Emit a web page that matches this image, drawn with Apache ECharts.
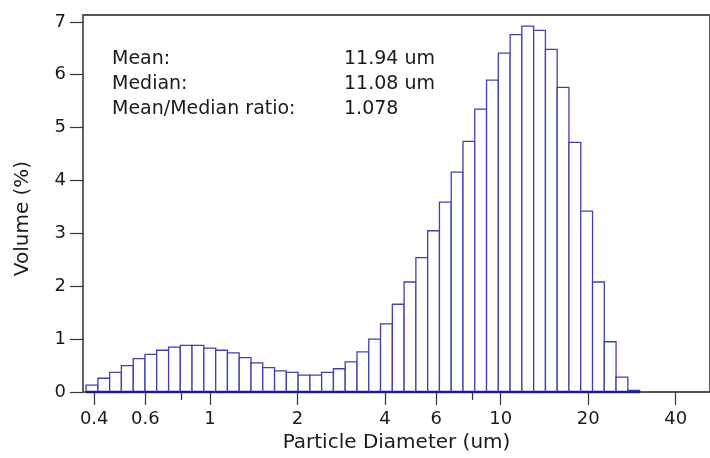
<!DOCTYPE html>
<html>
<head>
<meta charset="utf-8">
<script src="https://cdn.jsdelivr.net/npm/echarts@6/dist/echarts.min.js"></script>
<style>
html,body{margin:0;padding:0;background:#fff;}
#chart{width:710px;height:458px;}
</style>
</head>
<body>
<div id="chart"></div>
<script>
// Bin edges (um), log-spaced channels
const binEdges = [0.375,0.412,0.452,0.496,0.545,0.598,0.656,0.721,0.791,0.868,0.953,1.047,1.149,1.261,1.385,1.520,1.669,1.832,2.011,2.208,2.423,2.660,2.920,3.206,3.519,3.863,4.241,4.656,5.111,5.611,6.159,6.761,7.422,8.148,8.944,9.819,10.78,11.83,12.99,14.26,15.65,17.18,18.86,20.71,22.73,24.95,27.39,30.07];
// Volume (%) per bin
const volumes = [0.13,0.26,0.37,0.50,0.63,0.71,0.79,0.85,0.88,0.88,0.83,0.79,0.74,0.65,0.55,0.46,0.40,0.37,0.32,0.32,0.37,0.44,0.57,0.76,1.00,1.29,1.66,2.08,2.54,3.05,3.59,4.16,4.74,5.35,5.90,6.41,6.76,6.92,6.84,6.48,5.76,4.72,3.42,2.08,0.95,0.28,0.03];
const xTickLabels = [0.4,0.6,1,2,4,6,10,20,40];
const xMinorTicks = [0.8,8];
const yTickLabels = [0,1,2,3,4,5,6,7];
const statLabels = ['Mean:','Median:','Mean/Median ratio:'];
const statValues = ['11.94 um','11.08 um','1.078'];

const FONT = '"DejaVu Sans", "Liberation Sans", Arial, sans-serif';
const data = volumes.map((v,i)=>[binEdges[i], binEdges[i+1], v]);

const chart = echarts.init(document.getElementById('chart'));
const xMin = 0.366, xMax = 52.5;

const graphics = [];
statLabels.forEach((t,i)=>{
  graphics.push({type:'text', left:112, top:50+i*25, style:{text:t, font:'19px '+FONT, fill:'#1a1a1a'}});
  graphics.push({type:'text', left:344, top:50+i*25, style:{text:statValues[i], font:'19px '+FONT, fill:'#1a1a1a'}});
});

chart.setOption({
  animation:false,
  grid:{left:83, top:15, right:-3, bottom:66, show:true, borderColor:'#555', borderWidth:2, backgroundColor:'transparent'},
  xAxis:[{
    type:'log', logBase:10, min:xMin, max:xMax,
    name:'Particle Diameter (um)', nameLocation:'middle', nameGap:38,
    nameTextStyle:{fontSize:20, color:'#1a1a1a', fontFamily:FONT},
    axisLine:{show:true, lineStyle:{color:'#555', width:1.5}},
    axisTick:{show:true, length:13, lineStyle:{color:'#333', width:1.2}, customValues:xTickLabels},
    axisLabel:{show:true, fontSize:18, color:'#1a1a1a', fontFamily:FONT, margin:18, customValues:xTickLabels, formatter:v=>String(v)},
    splitLine:{show:false}, minorTick:{show:false}, minorSplitLine:{show:false}
  },{
    type:'log', logBase:10, min:xMin, max:xMax, position:'bottom',
    axisLine:{show:false},
    axisTick:{show:true, length:8, lineStyle:{color:'#333', width:1.2}, customValues:xMinorTicks},
    axisLabel:{show:false},
    splitLine:{show:false}
  }],
  yAxis:{
    type:'value', min:0, max:7.13,
    name:'Volume (%)', nameLocation:'middle', nameGap:50,
    nameTextStyle:{fontSize:20, color:'#1a1a1a', fontFamily:FONT, padding:[0,30,0,0]},
    axisLine:{show:true, lineStyle:{color:'#666', width:1.5}},
    axisTick:{show:true, length:13, lineStyle:{color:'#333', width:1.2}, customValues:yTickLabels},
    axisLabel:{fontSize:18, color:'#1a1a1a', fontFamily:FONT, margin:17, customValues:yTickLabels},
    splitLine:{show:false}
  },
  graphic:graphics,
  series:[{
    type:'custom',
    xAxisIndex:0,
    data:data,
    encode:{x:[0,1], y:2},
    renderItem:function(params, api){
      const p0 = api.coord([api.value(0), 0]);
      const p1 = api.coord([api.value(1), api.value(2)]);
      return {type:'group', children:[
        {type:'rect', shape:{x:p0[0], y:p1[1], width:p1[0]-p0[0], height:p0[1]-p1[1]},
         style:{fill:'#fff', stroke:'#4040b0', lineWidth:1.3}},
        {type:'line', shape:{x1:p0[0], y1:p0[1], x2:p1[0], y2:p0[1]},
         style:{stroke:'#1c1c8c', lineWidth:2.5}}
      ]};
    }
  }]
});
</script>
</body>
</html>
